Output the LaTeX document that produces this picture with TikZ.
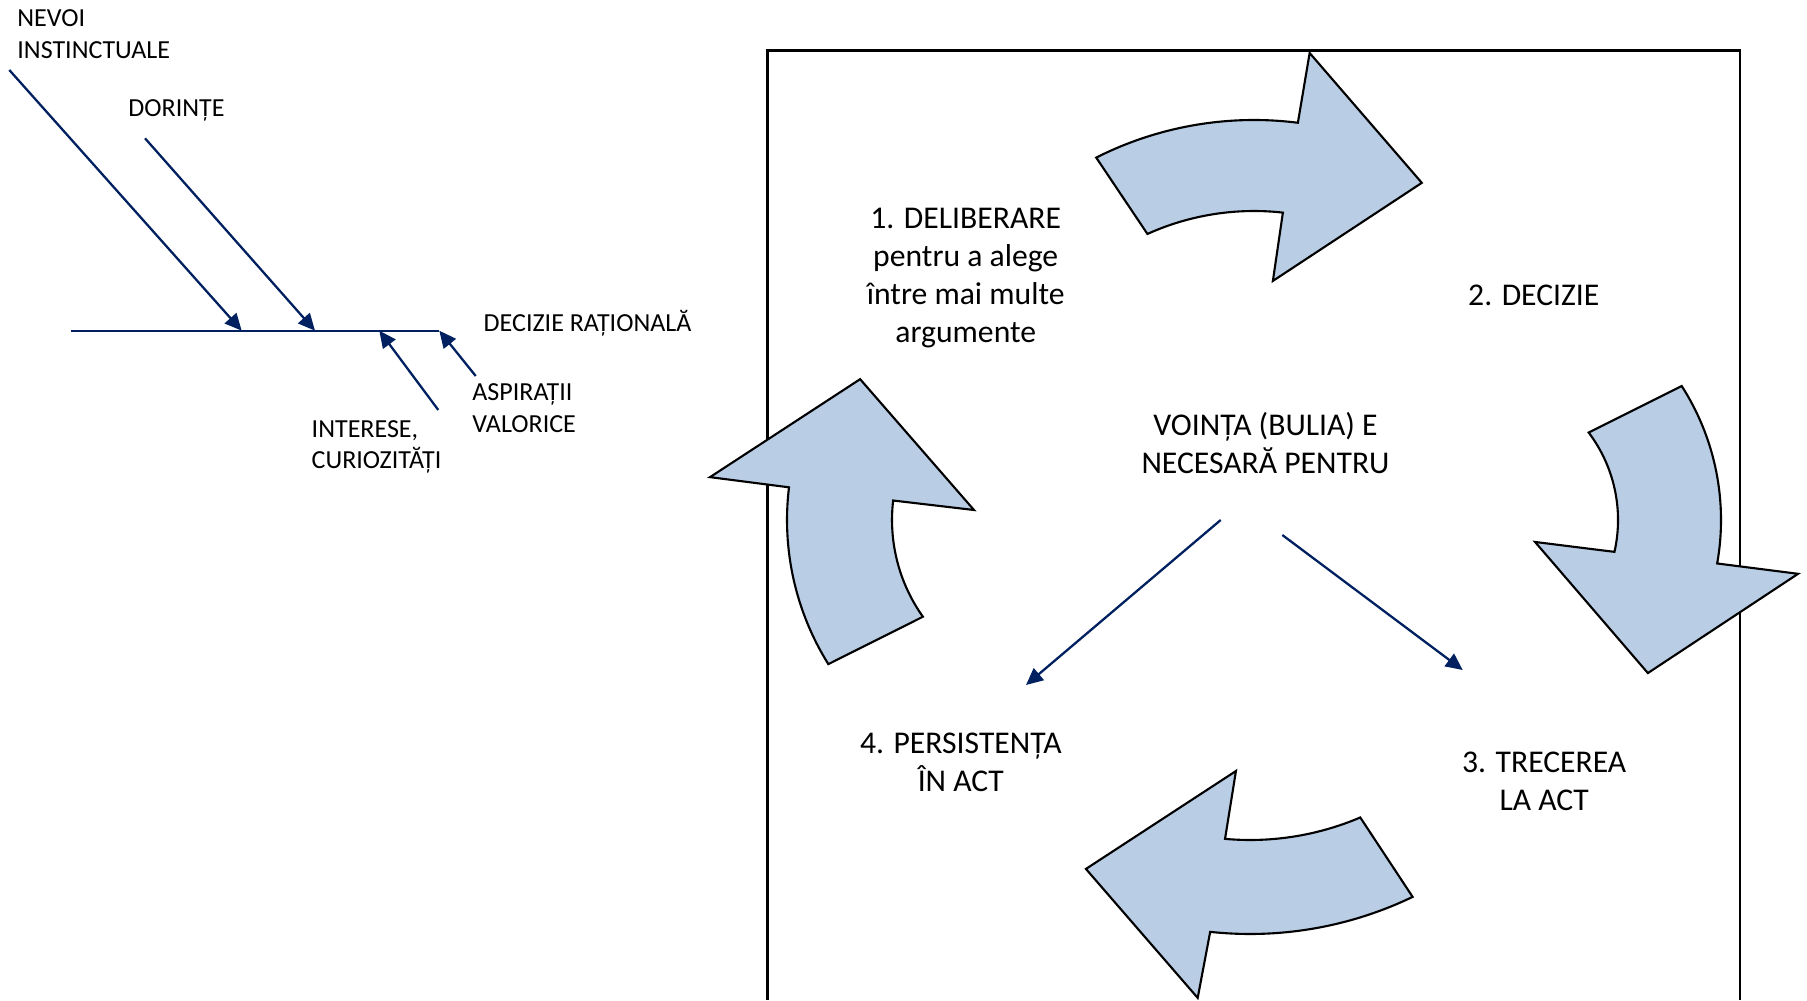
\documentclass[tikz,border=0pt]{standalone}
\usepackage{fontspec}
\setmainfont{Carlito}
\usetikzlibrary{arrows.meta, calc, positioning}
\definecolor{cyclefill}{RGB}{185,205,229}
\definecolor{navyline}{RGB}{0,32,96}
\tikzset{
  boxline/.style  = {line width=0.7pt, black},
  bigarrow/.style = {draw=black, line width=0.6pt, fill=cyclefill},
  pointer/.style  = {-{Triangle[length=4.8pt, width=4.4pt]}, line width=0.65pt, navyline},
  lbl/.style      = {font=\fontsize{7.4}{9}\selectfont, inner sep=0pt, align=left},
  stage/.style    = {font=\fontsize{9}{10.8}\selectfont, inner sep=0pt, align=center},
}
% #1 centre, #2/#3 outer/inner radius, #4/#5 outer arc angles,
% #6 head corners, #7/#8 inner arc angles
\newcommand{\cyclearrow}[8]{%
  \begin{scope}[shift={#1}]
    \draw[bigarrow] (#4:#2) arc[start angle=#4, end angle=#5, radius=#2]
      -- #6 -- (#7:#3) arc[start angle=#7, end angle=#8, radius=#3] -- cycle;
  \end{scope}
}

\begin{document}
\begin{tikzpicture}[x=0.01cm, y=0.01cm]
  \useasboundingbox (0,0) rectangle (1807,1000);

  % left: what feeds a rational decision
  \coordinate (spine-w) at (70.7,669.3);
  \coordinate (spine-e) at (439.3,669.3);
  \coordinate (nevoi-s) at (9.3,930);
  \coordinate (nevoi-t) at (241.7,669.3);
  \coordinate (dorinte-s) at (145,861.7);
  \coordinate (dorinte-t) at (315,669.3);
  \coordinate (interese-s) at (438.3,590);
  \coordinate (interese-t) at (379.3,669.3);
  \coordinate (aspiratii-s) at (475.7,624);
  \coordinate (aspiratii-t) at (439.3,669.3);
  \draw[navyline, line width=0.65pt] (spine-w) -- (spine-e);
  \draw[pointer] (nevoi-s) -- (nevoi-t);
  \draw[pointer] (dorinte-s) -- (dorinte-t);
  \draw[pointer] (interese-s) -- (interese-t);
  \draw[pointer] (aspiratii-s) -- (aspiratii-t);

  \node[lbl, anchor=north west] (nevoi) at (16.7,990.7) {NEVOI\\INSTINCTUALE};
  \node[lbl, anchor=base west] (dorinte) at (127.7,883) {DORINȚE};
  \node[lbl, anchor=base west] (rational) at (483,668) {DECIZIE RAȚIONALĂ};
  \node[lbl, anchor=north west] (aspiratii) at (471.7,616.7) {ASPIRAȚII\\VALORICE};
  \node[lbl, anchor=north west] (interese) at (311,580.5) {INTERESE,\\CURIOZITĂȚI};

  % right: the cycle of the will
  \draw[boxline] (767.5,0) |- (1740,949.3) -- (1740,0);

  \cyclearrow{(1254,530)}{350}{259}{116.8}{82.8}{(82.4:420.7) -- (59.7:332.6) -- (84.3:190)}{83.6}{114.3}
  \cyclearrow{(1473,480)}{248}{145}{32.7}{-10.1}{(-9.4:329.5) -- (-41.2:232.4) -- (-19.5:65.8)}{-12.7}{37.1}
  \cyclearrow{(1250,441)}{375}{281}{-64.3}{-96.1}{(-96.8:442) -- (-117.9:350.7) -- (-93.8:212.5)}{-95.1}{-66.9}
  \cyclearrow{(1059,480)}{272}{167}{-148}{-186.9}{(173:351.6) -- (144.7:243.7) -- (173.3:85.6)}{173.3}{215.4}

  \node[stage] (deliberare) at (965.7,722) {1. DELIBERARE\\pentru a alege\\între mai multe\\argumente};
  \node[stage] (decizie) at (1533.8,705) {2. DECIZIE};
  \node[stage] (vointa) at (1265.5,556.5) {VOINȚA (BULIA) E\\NECESARĂ PENTRU};
  \node[stage] (trecerea) at (1544.2,218.4) {3. TRECEREA\\LA ACT};
  \node[stage] (persist) at (960.8,238) {4. PERSISTENȚA\\ÎN ACT};

  \coordinate (will-l) at (1220.7,480);
  \coordinate (will-r) at (1282.3,465);
  \coordinate (persist-in) at (1026,315);
  \coordinate (act-in) at (1462.7,330);
  \draw[pointer] (will-l) -- (persist-in);
  \draw[pointer] (will-r) -- (act-in);
\end{tikzpicture}
\end{document}
